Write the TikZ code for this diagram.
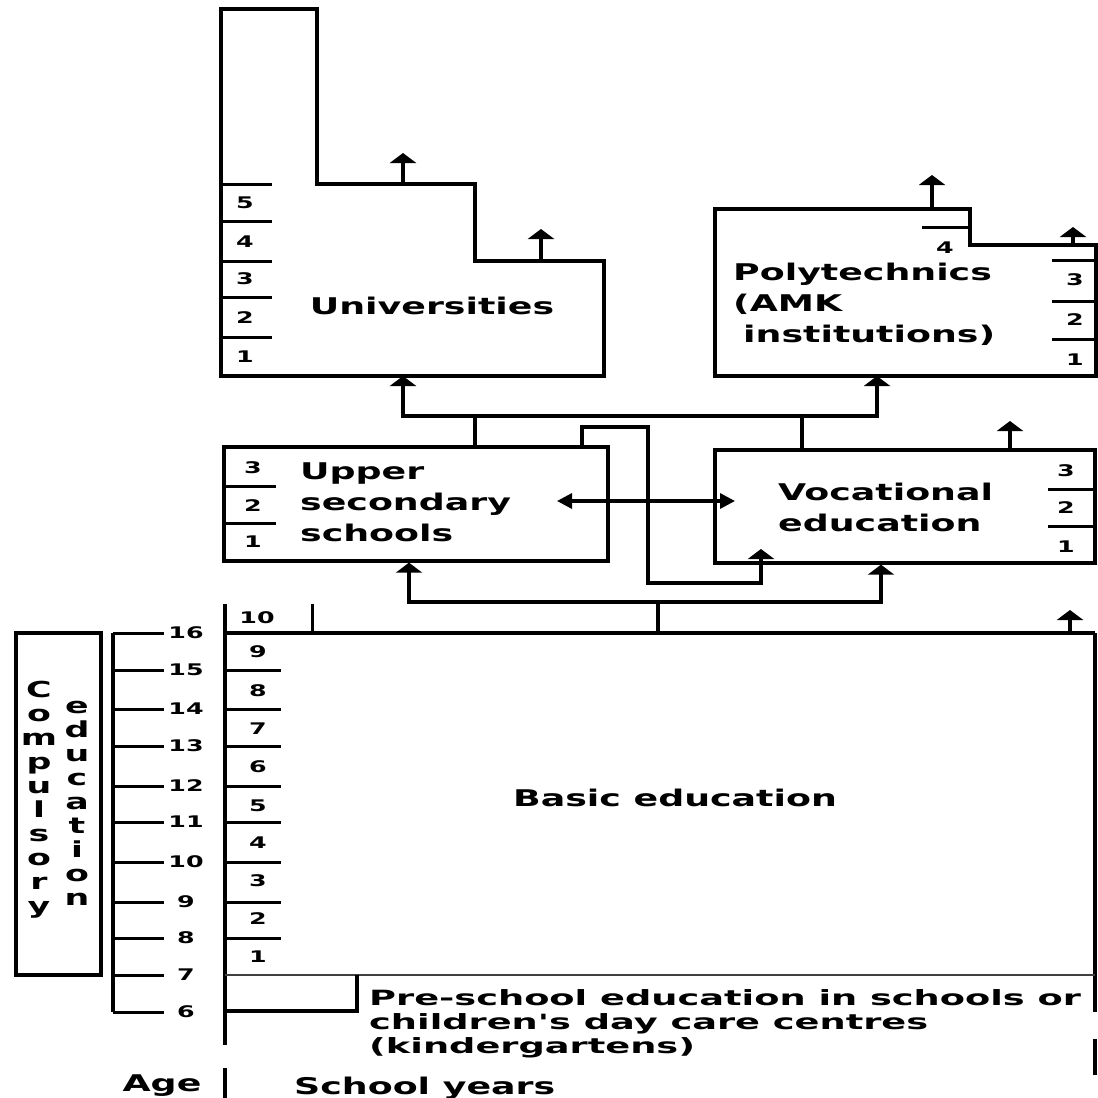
\documentclass[tikz,border=0pt]{standalone}
\usepackage{fontspec}
\usetikzlibrary{arrows.meta}
\usetikzlibrary{positioning}
\newfontfamily\diagfont{DejaVu Sans}[FakeStretch=1.58]
\newfontfamily\notefont{DejaVu Sans}[FakeStretch=1.75]

\tikzset{
  wall/.style={line width=3.3pt},
  tick/.style={line width=3pt},
  up/.style={line width=3.3pt, -{Triangle[width=26pt,length=10pt]}},
  both/.style={line width=3.3pt, {Triangle[width=15pt,length=15pt]}-{Triangle[width=15pt,length=15pt]}},
  title/.style={font=\diagfont\bfseries\fontsize{23}{31}\selectfont, align=left, inner sep=0pt},
  note/.style={font=\notefont\bfseries\fontsize{21}{24}\selectfont, align=left, inner sep=0pt},
  stack/.style={font=\diagfont\bfseries\fontsize{22}{24}\selectfont, align=center, inner sep=0pt},
  num/.style={font=\diagfont\bfseries\fontsize{16}{18}\selectfont, inner sep=0pt},
  level/.style={draw, line width=3.3pt, inner sep=0pt},
}

\begin{document}
\begin{tikzpicture}[x=1pt, y=-1pt]
    \useasboundingbox (0,0) rectangle (1098,1098);

    % universities
    \draw[wall] (221,9) -- (317,9) -- (317,184) -- (475,184) -- (475,261) -- (604,261) -- (604,376) -- (221,376) -- cycle;
    \draw[tick] (221,184) -- (272,184);
    \draw[tick] (221,221) -- (272,221);
    \draw[tick] (221,261) -- (272,261);
    \draw[tick] (221,297) -- (272,297);
    \draw[tick] (221,337) -- (272,337);
    \node[num] (uni-5) at (245,203) {5};
    \node[num] (uni-4) at (245,242) {4};
    \node[num] (uni-3) at (245,279) {3};
    \node[num] (uni-2) at (245,318) {2};
    \node[num] (uni-1) at (245,357) {1};
    \node[title] (uni) at (432,306) {Universities};
    \draw[up] (403,184) -- (403,153);
    \draw[up] (541,261) -- (541,229);
    \coordinate (uni-in) at (403,376);

    % polytechnics
    \draw[wall] (715,209) -- (970,209) -- (970,245) -- (1096,245) -- (1096,376) -- (715,376) -- cycle;
    \draw[tick] (922,227) -- (970,227);
    \draw[tick] (1052,260) -- (1096,260);
    \draw[tick] (1052,301) -- (1096,301);
    \draw[tick] (1052,339) -- (1096,339);
    \node[num] (poly-4) at (945,248) {4};
    \node[num] (poly-3) at (1075,280) {3};
    \node[num] (poly-2) at (1075,320) {2};
    \node[num] (poly-1) at (1075,360) {1};
    \node[title, anchor=north west] (poly) at (733,263) {Polytechnics\\(AMK\\\hspace{10pt}institutions)};
    \draw[up] (932,209) -- (932,175);
    \draw[up] (1073,245) -- (1073,227);
    \coordinate (poly-in) at (877,376);

    % upper secondary schools and vocational education
    \node[level, minimum width=384pt, minimum height=114pt] (upper) at (416,504) {};
    \node[level, minimum width=380pt, minimum height=113pt] (voc) at (905,506.5) {};
    \draw[tick] (224,486) -- (276,486);
    \draw[tick] (224,523) -- (276,523);
    \node[num] (upper-3) at (253,468) {3};
    \node[num] (upper-2) at (253,506) {2};
    \node[num] (upper-1) at (253,542) {1};
    \node[title, anchor=north west] (upper-txt) at (300,463) {Upper\\secondary\\schools};
    \draw[tick] (1048,489) -- (1095,489);
    \draw[tick] (1048,526) -- (1095,526);
    \node[num] (voc-3) at (1066,471) {3};
    \node[num] (voc-2) at (1066,508) {2};
    \node[num] (voc-1) at (1066,547) {1};
    \node[title, anchor=north west] (voc-txt) at (778,483) {Vocational\\education};
    \draw[up] (1010,450) -- (1010,421);

    % routes to higher education
    \draw[wall] (475,416) -- (802,416);
    \draw[up] (upper.north -| 475,0) -- (475,416) -| (uni-in);
    \draw[up] (voc.north -| 802,0) -- (802,416) -| (poly-in);
    \draw[up] (upper.north -| 582,0) -- (582,427) -- (648,427) -- (648,583) -| (761,549);
    \draw[both] (557,501) -- (735,501);

    % basic education
    \coordinate (basic-out) at (658,633);
    \draw[wall] (225,633) -- (1095,633);
    \draw[wall] (225,604) -- (225,1045);
    \draw[wall] (1095,633) -- (1095,1012);
    \draw[wall] (1095,1039) -- (1095,1075);
    \draw[tick] (312,604) -- (312,633);
    \node[num] (year-10) at (257,618) {10};
    \draw[up] (1070,633) -- (1070,610);
    \draw[up] (basic-out) -- (658,602) -| (upper.south -| 409,0);
    \draw[up] (658,602) -| (voc.south -| 881,0);

    \draw[tick] (225,670) -- (281,670);
    \draw[tick] (225,709) -- (281,709);
    \draw[tick] (225,746) -- (281,746);
    \draw[tick] (225,786) -- (281,786);
    \draw[tick] (225,822) -- (281,822);
    \draw[tick] (225,862) -- (281,862);
    \draw[tick] (225,902) -- (281,902);
    \draw[tick] (225,938) -- (281,938);
    \node[num] (year-9) at (258,652) {9};
    \node[num] (year-8) at (258,691) {8};
    \node[num] (year-7) at (258,729) {7};
    \node[num] (year-6) at (258,767) {6};
    \node[num] (year-5) at (258,806) {5};
    \node[num] (year-4) at (258,843) {4};
    \node[num] (year-3) at (258,881) {3};
    \node[num] (year-2) at (258,919) {2};
    \node[num] (year-1) at (258,957) {1};
    \node[title] (basic) at (675,798) {Basic education};

    % pre-school
    \draw[line width=2.2pt, black!75] (225,975) -- (1095,975);
    \draw[wall] (225,1011) -- (357,1011) -- (357,975);
    \node[note, anchor=north west] (pre) at (369,989) {Pre-school education in schools or\\children's day care centres\\(kindergartens)};

    % ages
    \draw[wall] (113,633) -- (113,1012);
    \draw[tick] (113,633) -- (164,633);
    \draw[tick] (113,670) -- (164,670);
    \draw[tick] (113,709) -- (164,709);
    \draw[tick] (113,746) -- (164,746);
    \draw[tick] (113,786) -- (164,786);
    \draw[tick] (113,822) -- (164,822);
    \draw[tick] (113,862) -- (164,862);
    \draw[tick] (113,902) -- (164,902);
    \draw[tick] (113,938) -- (164,938);
    \draw[tick] (113,975) -- (164,975);
    \draw[tick] (113,1012) -- (164,1012);
    \node[num] (age-16) at (186,633) {16};
    \node[num] (age-15) at (186,670) {15};
    \node[num] (age-14) at (186,709) {14};
    \node[num] (age-13) at (186,746) {13};
    \node[num] (age-12) at (186,786) {12};
    \node[num] (age-11) at (186,822) {11};
    \node[num] (age-10) at (186,862) {10};
    \node[num] (age-9) at (186,902) {9};
    \node[num] (age-8) at (186,938) {8};
    \node[num] (age-7) at (186,975) {7};
    \node[num] (age-6) at (186,1012) {6};

    % compulsory education
    \draw[wall] (16,633) rectangle (101,975);
    \node[stack] (comp) at (39,800) {C\\o\\m\\p\\u\\l\\s\\o\\r\\y};
    \node[stack] (edu) at (77,803) {e\\d\\u\\c\\a\\t\\i\\o\\n};

    % axis captions
    \node[title] (age) at (162,1086) {Age};
    \draw[wall] (225,1068) -- (225,1098);
    \node[title, anchor=west] (years) at (294,1088) {School years};
\end{tikzpicture}
\end{document}
